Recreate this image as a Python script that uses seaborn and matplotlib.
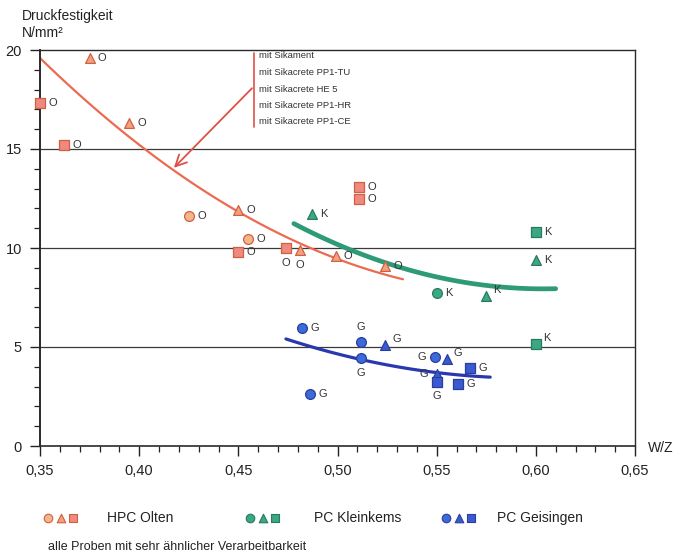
import numpy as np
import pandas as pd
import matplotlib
matplotlib.use("Agg")
import matplotlib.pyplot as plt
from matplotlib.ticker import MultipleLocator, FuncFormatter
import seaborn as sns

sns.set_style("white")
plt.rcParams['font.family'] = ['Liberation Sans', 'DejaVu Sans']

# ---------------- data ----------------
groups = ["HPC Olten", "PC Kleinkems", "PC Geisingen"]
group_letters = ["O", "K", "G"]

olten_shape = ["tri", "sq", "tri", "sq", "circ", "tri", "circ", "sq", "sq", "tri", "tri", "tri", "sq", "sq"]
olten_wz = [0.375, 0.350, 0.395, 0.362, 0.425, 0.450, 0.455, 0.450, 0.474, 0.481, 0.499, 0.524, 0.511, 0.511]
olten_fc = [19.6, 17.3, 16.3, 15.2, 11.6, 11.9, 10.45, 9.8, 10.0, 9.9, 9.6, 9.1, 13.1, 12.5]
olten_lab = ["r", "r", "r", "r", "r", "r", "r", "r", "b", "b", "r", "r", "r", "r"]

klein_shape = ["tri", "sq", "tri", "circ", "tri", "sq"]
klein_wz = [0.487, 0.600, 0.600, 0.550, 0.575, 0.600]
klein_fc = [11.7, 10.8, 9.4, 7.75, 7.6, 5.15]
klein_lab = ["r", "r", "r", "r", "ur", "ur"]

geis_shape = ["circ", "circ", "tri", "circ", "circ", "circ", "tri", "tri", "sq", "sq", "sq"]
geis_wz = [0.482, 0.512, 0.524, 0.512, 0.486, 0.549, 0.555, 0.550, 0.550, 0.567, 0.561]
geis_fc = [5.95, 5.25, 5.1, 4.45, 2.65, 4.5, 4.4, 3.65, 3.25, 3.95, 3.15]
geis_lab = ["r", "a", "ur", "b", "r", "l", "ur", "l", "b", "r", "r"]

# trend curves (drawn as quadratic regression fits)
olten_curve_wz = [0.350, 0.362, 0.379, 0.402, 0.418, 0.449, 0.464, 0.481, 0.506, 0.533]
olten_curve_fc = [19.6, 18.4, 16.85, 15.1, 14.1, 12.0, 10.96, 10.08, 9.1, 8.57]
klein_curve_wz = [0.478, 0.505, 0.516, 0.529, 0.550, 0.574, 0.592, 0.610]
klein_curve_fc = [11.2, 9.95, 9.64, 9.14, 8.46, 8.09, 7.97, 7.97]
geis_curve_wz = [0.474, 0.490, 0.511, 0.532, 0.549, 0.565, 0.577]
geis_curve_fc = [5.38, 4.96, 4.4, 3.94, 3.72, 3.55, 3.49]

admixtures = ["mit Sikament", "mit Sikacrete PP1-TU", "mit Sikacrete HE 5",
              "mit Sikacrete PP1-HR", "mit Sikacrete PP1-CE"]

x_ticks = [0.35, 0.40, 0.45, 0.50, 0.55, 0.60, 0.65]
y_ticks = [0, 5, 10, 15, 20]

# ---------------- styles ----------------
markers = {"circ": "o", "tri": "^", "sq": "s"}
msize = {"circ": 50, "tri": 50, "sq": 58}
fills = {
    "HPC Olten": {"circ": "#f4b48c", "tri": "#f3a080", "sq": "#ee8a80"},
    "PC Kleinkems": {"circ": "#3aa882", "tri": "#3aa882", "sq": "#3aa882"},
    "PC Geisingen": {"circ": "#3c6ad8", "tri": "#3c5ad0", "sq": "#3c5ad0"},
}
edges = {"HPC Olten": "#d06040", "PC Kleinkems": "#2a7a60", "PC Geisingen": "#2a3ea0"}
curve_col = {"HPC Olten": "#ec6a50", "PC Kleinkems": "#2e9a78", "PC Geisingen": "#2a38b0"}
curve_lw = {"HPC Olten": 1.6, "PC Kleinkems": 3.4, "PC Geisingen": 2.3}

frames = []
for g, L, sh, xs, ys, lb in [
    (groups[0], group_letters[0], olten_shape, olten_wz, olten_fc, olten_lab),
    (groups[1], group_letters[1], klein_shape, klein_wz, klein_fc, klein_lab),
    (groups[2], group_letters[2], geis_shape, geis_wz, geis_fc, geis_lab),
]:
    frames.append(pd.DataFrame({"group": g, "letter": L, "shape": sh, "wz": xs, "fc": ys, "pos": lb}))
df = pd.concat(frames, ignore_index=True)

curves = pd.concat([
    pd.DataFrame({"group": groups[0], "wz": olten_curve_wz, "fc": olten_curve_fc}),
    pd.DataFrame({"group": groups[1], "wz": klein_curve_wz, "fc": klein_curve_fc}),
    pd.DataFrame({"group": groups[2], "wz": geis_curve_wz, "fc": geis_curve_fc}),
], ignore_index=True)

# ---------------- figure ----------------
fig = plt.figure(figsize=(6.78, 5.55), dpi=100)
ax = fig.add_axes([40 / 678, 1 - 446 / 555, 595 / 678, 396 / 555])

for yv in [5, 10, 15]:
    ax.axhline(yv, color="#3a3a3a", lw=0.9, zorder=1)

for g in groups:
    sub = curves[curves.group == g]
    sns.regplot(data=sub, x="wz", y="fc", order=2, ci=None, scatter=False, truncate=True,
                ax=ax, line_kws=dict(color=curve_col[g], lw=curve_lw[g], zorder=2))

for g in groups:
    for s in ["circ", "tri", "sq"]:
        sub = df[(df.group == g) & (df["shape"] == s)]
        if len(sub) == 0:
            continue
        sns.scatterplot(data=sub, x="wz", y="fc", marker=markers[s], s=msize[s],
                        color=fills[g][s], edgecolor=edges[g], linewidth=0.9,
                        ax=ax, zorder=4, legend=False, clip_on=False)

offs = {"r": (6, 0, "left", "center"), "b": (0, -7, "center", "top"),
        "a": (0, 7, "center", "bottom"), "l": (-6, 0, "right", "center"),
        "ur": (5, 4, "left", "center")}
for _, r in df.iterrows():
    dx, dy, ha, va = offs[r["pos"]]
    ax.annotate(r["letter"], (r["wz"], r["fc"]), xytext=(dx, dy), textcoords="offset points",
                ha=ha, va=va, fontsize=8, color="#333333", zorder=5)

ax.set_xlim(0.35, 0.65)
ax.set_ylim(0, 20)
ax.set_xticks(x_ticks)
ax.set_yticks(y_ticks)
ax.xaxis.set_minor_locator(MultipleLocator(0.01))
ax.yaxis.set_minor_locator(MultipleLocator(1))
ax.xaxis.set_major_formatter(FuncFormatter(lambda v, p: f"{v:.2f}".replace(".", ",")))
ax.tick_params(which="major", direction="out", length=7, width=1.0, colors="#222222",
               labelsize=10.5, pad=6)
ax.tick_params(which="minor", direction="out", length=4, width=0.9, colors="#222222")
ax.tick_params(axis="both", which="both", bottom=True, left=True, top=False, right=False)
ax.set_xlabel("")
ax.set_ylabel("")
for sp in ax.spines.values():
    sp.set_visible(True)
    sp.set_color("#2a2a2a")
    sp.set_linewidth(1.0)
ax.spines["left"].set_linewidth(1.4)
ax.spines["bottom"].set_linewidth(1.2)

# admixture note with arrow
ax.plot([0.4579, 0.4579], [16.1, 19.85], color="#e0504a", lw=1.2, zorder=3)
ty = [19.7, 18.85, 18.0, 17.2, 16.4]
for t, yv in zip(admixtures, ty):
    ax.text(0.4605, yv, t, fontsize=6.8, color="#333333", va="center", ha="left")
ax.annotate("", xy=(0.4175, 14.05), xytext=(0.4569, 18.07),
            arrowprops=dict(arrowstyle="->,head_length=0.8,head_width=0.4",
                            color="#e0504a", lw=1.3, shrinkA=0, shrinkB=0))

# axis titles
fig.text(22 / 678, 1 - 16 / 555, "Druckfestigkeit", fontsize=10, color="#222222", va="center")
fig.text(22 / 678, 1 - 33 / 555, "N/mm²", fontsize=10, color="#222222", va="center")
fig.text(648 / 678, 1 - 448 / 555, "W/Z", fontsize=10, color="#222222", va="center")

# bottom legend
lax = fig.add_axes([0, 0, 1, 1], facecolor="none")
lax.set_xlim(0, 678)
lax.set_ylim(555, 0)
lax.axis("off")
leg_x = [48, 250, 446]
for g, x0 in zip(groups, leg_x):
    for k, s in enumerate(["circ", "tri", "sq"]):
        lax.scatter([x0 + 12.5 * k], [518], marker=markers[s], s=38,
                    color=fills[g][s], edgecolors=edges[g], linewidths=0.8)
lax.text(107, 518, groups[0], fontsize=10, va="center", color="#222222")
lax.text(314, 518, groups[1], fontsize=10, va="center", color="#222222")
lax.text(497, 518, groups[2], fontsize=10, va="center", color="#222222")
lax.text(48, 547, "alle Proben mit sehr ähnlicher Verarbeitbarkeit", fontsize=9,
         va="center", color="#222222")

fig.savefig("out.png", dpi=100)
